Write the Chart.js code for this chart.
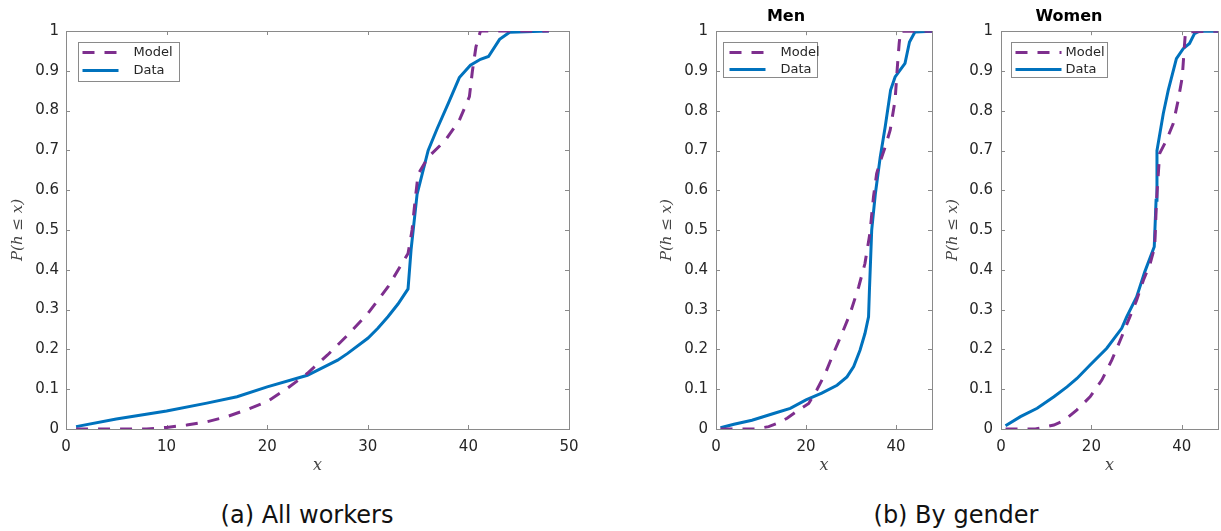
<!DOCTYPE html>
<html>
<head>
<meta charset="utf-8">
<script src="https://cdn.jsdelivr.net/npm/chart.js"></script>
<style>
  body { margin: 0; background: white; font-family: 'DejaVu Sans', sans-serif; }
  #wrap { position: relative; width: 1221px; height: 531px; overflow: hidden; }
  canvas { position: absolute; top: 0; }
  .caption { position: absolute; top: 501px; font-size: 24px; color: #111; transform: translateX(-50%); white-space: nowrap; }
</style>
</head>
<body>
<div id="wrap">
  <canvas id="chartAll" width="600" height="480" style="left:0px"></canvas>
  <canvas id="chartMen" width="300" height="480" style="left:640px"></canvas>
  <canvas id="chartWomen" width="301" height="480" style="left:920px"></canvas>
  <div class="caption" style="left:307px">(a) All workers</div>
  <div class="caption" style="left:956px">(b) By gender</div>
</div>

<script>
  // tick labels
  const yTicks = [0, 0.1, 0.2, 0.3, 0.4, 0.5, 0.6, 0.7, 0.8, 0.9, 1];
  const xTicksAll = [0, 10, 20, 30, 40, 50];
  const xTicksGender = [0, 20, 40];
  const seriesNames = ['Model', 'Data'];

  // All workers
  const allModelX = [1, 8, 10, 12, 14, 16, 18, 20, 22, 24, 26, 28, 30, 32, 34, 34.4, 34.7, 35, 36, 37.7, 39.1, 40.1, 40.4, 40.75, 41.2, 48];
  const allModelY = [0, 0, 0.004, 0.01, 0.018, 0.031, 0.049, 0.069, 0.102, 0.14, 0.186, 0.236, 0.29, 0.357, 0.441, 0.50, 0.574, 0.64, 0.683, 0.725, 0.776, 0.835, 0.90, 0.96, 1, 1];
  const allDataX = [1, 5, 10, 14, 17, 20, 24, 27, 28, 30, 31, 32, 33, 34, 34.3, 34.9, 36, 36.9, 38, 39.1, 40.2, 41.2, 42, 43.1, 44.1, 48];
  const allDataY = [0.006, 0.025, 0.045, 0.065, 0.081, 0.106, 0.135, 0.173, 0.19, 0.228, 0.253, 0.282, 0.314, 0.352, 0.45, 0.59, 0.70, 0.755, 0.818, 0.883, 0.914, 0.929, 0.936, 0.979, 0.997, 1];

  // Men
  const menModelX = [1, 8.8, 11.7, 13.6, 15.8, 18.4, 20.6, 22.4, 24.3, 26.1, 28, 29.8, 31.7, 33.1, 34.2, 35, 35.7, 36.6, 37.6, 38.7, 39.8, 40.3, 40.7, 41, 48];
  const menModelY = [0, 0, 0.006, 0.014, 0.027, 0.048, 0.064, 0.098, 0.14, 0.19, 0.24, 0.29, 0.357, 0.416, 0.492, 0.584, 0.642, 0.676, 0.709, 0.751, 0.827, 0.91, 0.969, 1, 1];
  const menDataX = [1, 4, 8, 12.8, 16.5, 20, 23.5, 26.9, 29.1, 30.6, 32, 33.1, 33.9, 34.1, 34.6, 35.4, 36.5, 37.6, 38.8, 39.8, 40.9, 42, 43, 44.2, 48];
  const menDataY = [0.003, 0.012, 0.022, 0.039, 0.052, 0.073, 0.09, 0.11, 0.131, 0.157, 0.198, 0.24, 0.282, 0.35, 0.5, 0.59, 0.684, 0.76, 0.852, 0.885, 0.902, 0.919, 0.973, 0.998, 1];

  // Women
  const womenModelX = [1, 7.6, 11.7, 13.9, 16.8, 19.7, 22.3, 24.5, 26.7, 28.5, 30, 31.5, 33, 34, 34.4, 35.1, 36.6, 38.1, 39.2, 40.1, 40.5, 40.8, 48];
  const womenModelY = [0, 0, 0.01, 0.021, 0.048, 0.081, 0.123, 0.173, 0.232, 0.282, 0.324, 0.374, 0.416, 0.458, 0.575, 0.693, 0.726, 0.768, 0.827, 0.885, 0.952, 0.998, 1];
  const womenDataX = [1, 4.3, 8, 11.7, 14.6, 16.8, 19.7, 23.4, 26.7, 27.8, 30, 31.8, 33.9, 34.3, 34.5, 35.9, 37, 38.8, 40.3, 41.7, 42.8, 43.9, 48];
  const womenDataY = [0.008, 0.031, 0.052, 0.081, 0.106, 0.127, 0.161, 0.203, 0.253, 0.282, 0.332, 0.395, 0.458, 0.575, 0.70, 0.793, 0.852, 0.931, 0.956, 0.969, 0.994, 1, 1];

  const purple = '#7E2F8E';
  const blue = '#0072BD';
  const textColor = '#262626';
  const frameColor = '#8a8a8a';

  const toPoints = (xs, ys) => xs.map((x, i) => ({ x: x, y: ys[i] }));

  // box around the axes with inward ticks (MATLAB style)
  const framePlugin = {
    id: 'frame',
    beforeDatasetsDraw(chart) {
      const { ctx, chartArea: a, scales } = chart;
      const len = 4;
      ctx.save();
      ctx.strokeStyle = frameColor;
      ctx.lineWidth = 1;
      ctx.strokeRect(Math.round(a.left) + 0.5, Math.round(a.top) + 0.5, Math.round(a.right - a.left), Math.round(a.bottom - a.top));
      ctx.beginPath();
      scales.y.ticks.forEach(t => {
        const py = Math.round(scales.y.getPixelForValue(t.value)) + 0.5;
        ctx.moveTo(a.left, py); ctx.lineTo(a.left + len, py);
        ctx.moveTo(a.right, py); ctx.lineTo(a.right - len, py);
      });
      scales.x.ticks.forEach(t => {
        const px = Math.round(scales.x.getPixelForValue(t.value)) + 0.5;
        ctx.moveTo(px, a.bottom); ctx.lineTo(px, a.bottom - len);
        ctx.moveTo(px, a.top); ctx.lineTo(px, a.top + len);
      });
      ctx.stroke();
      ctx.restore();
    }
  };

  // legend box drawn inside the axes
  const boxLegendPlugin = {
    id: 'boxLegend',
    afterDatasetsDraw(chart, args, opts) {
      const { ctx, chartArea: a } = chart;
      const bx = Math.round(a.left + opts.dx) + 0.5;
      const by = Math.round(a.top + opts.dy) + 0.5;
      ctx.save();
      ctx.fillStyle = '#fff';
      ctx.fillRect(bx, by, opts.w, opts.h);
      ctx.strokeStyle = frameColor;
      ctx.lineWidth = 1;
      ctx.strokeRect(bx, by, opts.w, opts.h);
      ctx.font = '13px "DejaVu Sans"';
      ctx.textBaseline = 'middle';
      chart.data.datasets.forEach((ds, i) => {
        const ly = by + opts.rows[i];
        ctx.beginPath();
        ctx.strokeStyle = ds.borderColor;
        ctx.lineWidth = 3;
        ctx.setLineDash(ds.borderDash || []);
        ctx.moveTo(bx + opts.lineStart, ly);
        ctx.lineTo(bx + opts.lineStart + opts.lineLen, ly);
        ctx.stroke();
        ctx.setLineDash([]);
        ctx.fillStyle = textColor;
        ctx.fillText(ds.label, bx + opts.textX, ly);
      });
      ctx.restore();
    }
  };

  function makeChart(id, cfg) {
    const fixTicks = arr => scale => { scale.ticks = arr.map(v => ({ value: v })); };
    return new Chart(document.getElementById(id), {
      type: 'scatter',
      data: {
        datasets: [
          {
            label: seriesNames[0],
            data: toPoints(cfg.modelX, cfg.modelY),
            showLine: true,
            borderColor: purple,
            borderWidth: 3,
            borderDash: [12, 10],
            borderCapStyle: 'butt',
            pointRadius: 0,
            tension: 0
          },
          {
            label: seriesNames[1],
            data: toPoints(cfg.dataX, cfg.dataY),
            showLine: true,
            borderColor: blue,
            borderWidth: 3,
            pointRadius: 0,
            tension: 0
          }
        ]
      },
      options: {
        responsive: false,
        animation: false,
        layout: { padding: { left: 0, right: cfg.padRight, top: cfg.title ? 0 : 31, bottom: 0 } },
        plugins: {
          legend: { display: false },
          tooltip: { enabled: false },
          title: {
            display: !!cfg.title,
            text: cfg.title,
            color: '#000',
            font: { family: 'DejaVu Sans', size: 16, weight: 'bold' },
            padding: { top: 7, bottom: 5 }
          },
          boxLegend: cfg.legend
        },
        scales: {
          x: {
            type: 'linear',
            min: 0,
            max: cfg.xMax,
            afterBuildTicks: fixTicks(cfg.xTicks),
            afterFit: s => { s.height = 51; },
            grid: { display: false, drawTicks: false },
            border: { display: false },
            ticks: { color: textColor, padding: 9, font: { family: 'DejaVu Sans', size: 15 } },
            title: {
              display: true, text: 'x', color: '#444',
              font: { family: 'DejaVu Serif', style: 'italic', size: 16 },
              padding: { top: 0, bottom: 5 }
            }
          },
          y: {
            min: 0,
            max: 1,
            afterBuildTicks: fixTicks(yTicks),
            afterFit: s => { s.width = cfg.yWidth; },
            grid: { display: false, drawTicks: false },
            border: { display: false },
            ticks: {
              color: textColor, padding: cfg.yPad,
              font: { family: 'DejaVu Sans', size: 15 },
              callback: v => String(Number(v.toFixed(1)))
            },
            title: {
              display: true, text: 'P(h \u2264 x)', color: '#444',
              font: { family: 'DejaVu Serif', style: 'italic', size: 15 },
              padding: { top: cfg.yTitlePad, bottom: 0 }
            }
          }
        }
      },
      plugins: [framePlugin, boxLegendPlugin]
    });
  }

  makeChart('chartAll', {
    modelX: allModelX, modelY: allModelY, dataX: allDataX, dataY: allDataY,
    xMax: 50, xTicks: xTicksAll, yWidth: 66, yPad: 7, yTitlePad: 9, padRight: 31,
    legend: { dx: 12, dy: 11, w: 101, h: 39, rows: [10, 28], lineStart: 4, lineLen: 36, textX: 55 }
  });
  makeChart('chartMen', {
    modelX: menModelX, modelY: menModelY, dataX: menDataX, dataY: menDataY,
    xMax: 48, xTicks: xTicksGender, yWidth: 76, yPad: 8, yTitlePad: 18, padRight: 8, title: 'Men',
    legend: { dx: 7, dy: 11, w: 94, h: 35, rows: [10, 27], lineStart: 6, lineLen: 36, textX: 57 }
  });
  makeChart('chartWomen', {
    modelX: womenModelX, modelY: womenModelY, dataX: womenDataX, dataY: womenDataY,
    xMax: 48, xTicks: xTicksGender, yWidth: 81, yPad: 8, yTitlePad: 24, padRight: 3, title: 'Women',
    legend: { dx: 10, dy: 11, w: 96, h: 35, rows: [10, 27], lineStart: 4, lineLen: 46, textX: 54 }
  });
</script>
</body>
</html>
